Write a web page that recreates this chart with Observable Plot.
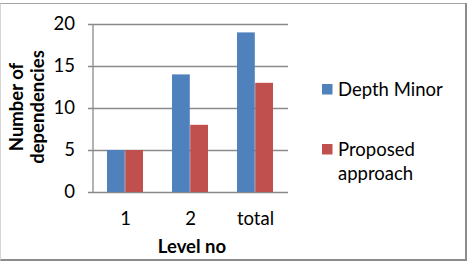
<!DOCTYPE html>
<html>
<head>
<meta charset="utf-8">
<script src="https://cdn.jsdelivr.net/npm/d3@7"></script>
<script src="https://cdn.jsdelivr.net/npm/@observablehq/plot@0.6"></script>
<style>
  html, body { margin: 0; padding: 0; background: #fff; }
  #chart { position: relative; width: 470px; height: 266px; overflow: hidden; background: #fff; font-family: Lato, "Open Sans", sans-serif; }
  #border {
    position: absolute; left: 0; top: 3px; width: 467px; height: 258px; box-sizing: border-box;
    border-top: 1px solid #a4a4a4; border-left: 1px solid #d6d6d6;
    border-right: 2px solid #8c8c8c; border-bottom: 2px solid #8c8c8c;
  }
  #plot { position: absolute; left: 0; top: 0; }
  #legend { position: absolute; left: 318px; top: 70px; }
</style>
</head>
<body>
<div id="chart">
  <div id="border"></div>
  <div id="plot"></div>
  <svg id="legend" width="150" height="130"></svg>
</div>
<script>
// Levels on the x axis and the two series of dependency counts
const levels = ["1", "2", "total"];
const series = ["Depth Minor", "Proposed approach"];
const depthMinor = [5, 14, 19];
const proposedApproach = [5, 8, 13];
const yTicks = [0, 5, 10, 15, 20];
const colors = ["#4F81BD", "#C0504D"];

const data = levels.flatMap((level, i) => [
  {level, series: series[0], value: depthMinor[i]},
  {level, series: series[1], value: proposedApproach[i]}
]);

// Plot layout
const width = 300, height = 266;
const margin = {left: 93, right: 12, top: 24, bottom: 74};
const paddingInner = 0.44, paddingOuter = 0.22;
const fontSize = 18.5;
const gridColor = "#8a8a8a";

// Band geometry, used to split each band between the two series
const frameWidth = width - margin.left - margin.right;
const step = frameWidth / (levels.length - paddingInner + 2 * paddingOuter);
const bandwidth = step * (1 - paddingInner);
const half = bandwidth / 2;

const chart = Plot.plot({
  width, height,
  marginLeft: margin.left, marginRight: margin.right,
  marginTop: margin.top, marginBottom: margin.bottom,
  style: {fontFamily: "Lato, 'Open Sans', sans-serif", fontSize: fontSize + "px", color: "#000", background: "transparent", overflow: "visible"},
  x: {domain: levels, paddingInner, paddingOuter, align: 0.5, label: null, tickSize: 0, tickPadding: 19},
  y: {domain: [0, 20], ticks: yTicks, label: null, tickSize: 0, tickPadding: 18.5},
  color: {domain: series, range: colors},
  marks: [
    Plot.ruleY(yTicks, {stroke: gridColor, strokeWidth: 1.3, insetLeft: -5}),
    Plot.ruleX([levels[0]], {stroke: gridColor, strokeWidth: 1.3, dx: -step / 2}),
    Plot.barY(data.filter(d => d.series === series[0]), {x: "level", y: "value", fill: "series", insetRight: half}),
    Plot.barY(data.filter(d => d.series === series[1]), {x: "level", y: "value", fill: "series", insetLeft: half}),
    Plot.text(["Number of\ndependencies"], {
      frameAnchor: "left", dx: -67, dy: -1.5, rotate: -90,
      textAnchor: "middle", lineAnchor: "middle", lineHeight: 1.12,
      fontWeight: "bold", fill: "#000"
    }),
    Plot.text(["Level no"], {
      frameAnchor: "bottom", dx: 1, dy: 60, lineAnchor: "bottom",
      textAnchor: "middle", fontWeight: "bold", fill: "#000"
    })
  ]
});
document.getElementById("plot").appendChild(chart);

// Legend: square swatch plus series name, wrapped to the legend width
const legend = d3.select("#legend");
const legendBaselines = [26, 86];
const lineGap = 24;
const maxTextWidth = 115;
series.forEach((name, i) => {
  const base = legendBaselines[i];
  legend.append("rect")
    .attr("x", 4).attr("y", base - 12).attr("width", 10.5).attr("height", 10.5)
    .attr("fill", colors[i]);
  const text = legend.append("text")
    .attr("x", 20).attr("y", base)
    .attr("font-family", "Lato, 'Open Sans', sans-serif")
    .attr("font-size", fontSize).attr("fill", "#000");
  const words = name.split(" ");
  let line = [], tspan = text.append("tspan").attr("x", 20).attr("y", base), lineNo = 0;
  for (const w of words) {
    line.push(w);
    tspan.text(line.join(" "));
    if (tspan.node().getComputedTextLength() > maxTextWidth && line.length > 1) {
      line.pop();
      tspan.text(line.join(" "));
      line = [w];
      lineNo++;
      tspan = text.append("tspan").attr("x", 20).attr("y", base + lineNo * lineGap).text(w);
    }
  }
});
</script>
</body>
</html>
